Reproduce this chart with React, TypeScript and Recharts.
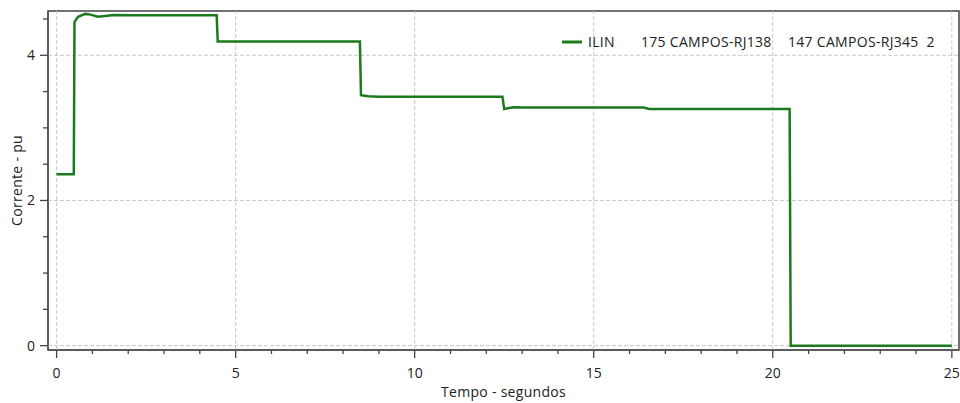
import { LineChart, Line, XAxis, YAxis, ReferenceLine, ReferenceArea, Legend, Label } from 'recharts';

// simulation output: line current (pu) over time (s)
const TIME = [
  0, 0.48, 0.5, 0.6, 0.8, 0.95, 1.15, 1.35, 1.6, 2.0, 4.47, 4.5, 8.47, 8.5, 8.7, 9.0,
  12.45, 12.5, 12.6, 12.75, 13.0, 16.4, 16.55, 20.47, 20.5, 25,
];
const CURRENT = [
  2.36, 2.36, 4.46, 4.53, 4.57, 4.56, 4.53, 4.54, 4.555, 4.55, 4.55, 4.19, 4.19, 3.45, 3.435, 3.43,
  3.43, 3.26, 3.27, 3.285, 3.28, 3.28, 3.26, 3.26, 0, 0,
];

const X_TICKS = [0, 1, 2, 3, 4, 5, 6, 7, 8, 9, 10, 11, 12, 13, 14, 15, 16, 17, 18, 19, 20, 21, 22, 23, 24, 25];
const X_MAJOR = [0, 5, 10, 15, 20, 25];
const Y_TICKS = [0, 0.5, 1, 1.5, 2, 2.5, 3, 3.5, 4, 4.5];
const Y_MAJOR = [0, 2, 4];
const X_DOMAIN = [-0.24, 25.2];
const Y_DOMAIN = [-0.06, 4.61];

const SERIES_NAME = 'ILIN';
const LEGEND_PARTS = ['ILIN', '175 CAMPOS-RJ138', '147 CAMPOS-RJ345  2'];

const LINE_COLOR = '#1c7a1c';
const AXIS_COLOR = '#444';
const GRID_COLOR = '#c8c8c8';
const TEXT_COLOR = '#222';
const FONT = '"Open Sans", "Noto Sans", sans-serif';
const FONT_SIZE = 14;
const LETTER_SPACING = 0.3;

const TICK_SIZE = 8;
const TICK_MARGIN = 3;

const data = TIME.map((t, i) => ({ t, i: CURRENT[i] }));

function XTick(props: any) {
  const { x, y, payload } = props;
  const major = X_MAJOR.includes(payload.value);
  const axisY = y - TICK_SIZE - TICK_MARGIN;
  return (
    <g>
      <line x1={x} x2={x} y1={axisY} y2={axisY + (major ? 8 : 4)} stroke={AXIS_COLOR} strokeWidth={1.3} />
      {major && (
        <text x={x} y={axisY + 28} textAnchor="middle" fontSize={FONT_SIZE} fill={TEXT_COLOR} fontFamily={FONT}>
          {payload.value}
        </text>
      )}
    </g>
  );
}

function YTick(props: any) {
  const { x, y, payload } = props;
  const major = Y_MAJOR.includes(payload.value);
  const axisX = x + TICK_SIZE + TICK_MARGIN;
  return (
    <g>
      <line x1={axisX - (major ? 8 : 5)} x2={axisX} y1={y} y2={y} stroke={AXIS_COLOR} strokeWidth={1.3} />
      {major && (
        <text x={axisX - 13} y={y} dy="0.35em" textAnchor="end" fontSize={FONT_SIZE} fill={TEXT_COLOR} fontFamily={FONT}>
          {payload.value}
        </text>
      )}
    </g>
  );
}

function LegendContent() {
  return (
    <div
      style={{
        display: 'flex',
        alignItems: 'center',
        fontFamily: FONT,
        fontSize: FONT_SIZE,
        letterSpacing: LETTER_SPACING,
        color: TEXT_COLOR,
        whiteSpace: 'pre',
      }}
    >
      <svg width={20} height={4} style={{ marginRight: 6 }}>
        <line x1={0} x2={20} y1={2} y2={2} stroke={LINE_COLOR} strokeWidth={3} />
      </svg>
      <span style={{ width: 53 }}>{LEGEND_PARTS[0]}</span>
      <span style={{ width: 147 }}>{LEGEND_PARTS[1]}</span>
      <span>{LEGEND_PARTS[2]}</span>
    </div>
  );
}

export default function App() {
  return (
    <div style={{ position: 'absolute', left: 0, top: 0, background: '#fff' }}>
      <LineChart width={960} height={403} data={data} margin={{ top: 11, right: 1, bottom: 0, left: 0 }}>
        {X_MAJOR.map((v) => (
          <ReferenceLine key={'x' + v} x={v} stroke={GRID_COLOR} strokeDasharray="4 2" />
        ))}
        {Y_MAJOR.map((v) => (
          <ReferenceLine key={'y' + v} y={v} stroke={GRID_COLOR} strokeDasharray="4 2" />
        ))}
        <ReferenceArea
          x1={X_DOMAIN[0]}
          x2={X_DOMAIN[1]}
          y1={Y_DOMAIN[0]}
          y2={Y_DOMAIN[1]}
          fill="none"
          fillOpacity={0}
          stroke={AXIS_COLOR}
          strokeWidth={1.5}
          strokeOpacity={1}
          ifOverflow="visible"
        />
        <XAxis
          dataKey="t"
          type="number"
          domain={X_DOMAIN}
          ticks={X_TICKS}
          interval={0}
          allowDataOverflow
          height={53}
          stroke={AXIS_COLOR}
          tickSize={TICK_SIZE}
          tickMargin={TICK_MARGIN}
          tickLine={false}
          tick={<XTick />}
        >
          <Label
            value="Tempo - segundos"
            position="insideBottom"
            offset={6}
            fontSize={FONT_SIZE}
            fill={TEXT_COLOR}
            fontFamily={FONT}
            style={{ letterSpacing: LETTER_SPACING }}
          />
        </XAxis>
        <YAxis
          type="number"
          domain={Y_DOMAIN}
          ticks={Y_TICKS}
          interval={0}
          allowDataOverflow
          width={48}
          stroke={AXIS_COLOR}
          tickSize={TICK_SIZE}
          tickMargin={TICK_MARGIN}
          tickLine={false}
          tick={<YTick />}
        >
          <Label
            value="Corrente - pu"
            angle={-90}
            position="insideLeft"
            offset={17}
            fontSize={FONT_SIZE}
            fill={TEXT_COLOR}
            fontFamily={FONT}
            style={{ textAnchor: 'middle', letterSpacing: LETTER_SPACING }}
          />
        </YAxis>
        <Legend
          layout="horizontal"
          verticalAlign="middle"
          align="center"
          content={<LegendContent />}
          wrapperStyle={{ top: 32, left: 562, width: 'auto' }}
        />
        <Line
          name={SERIES_NAME}
          dataKey="i"
          type="linear"
          stroke={LINE_COLOR}
          strokeWidth={2.5}
          dot={false}
          activeDot={false}
          isAnimationActive={false}
        />
      </LineChart>
    </div>
  );
}
